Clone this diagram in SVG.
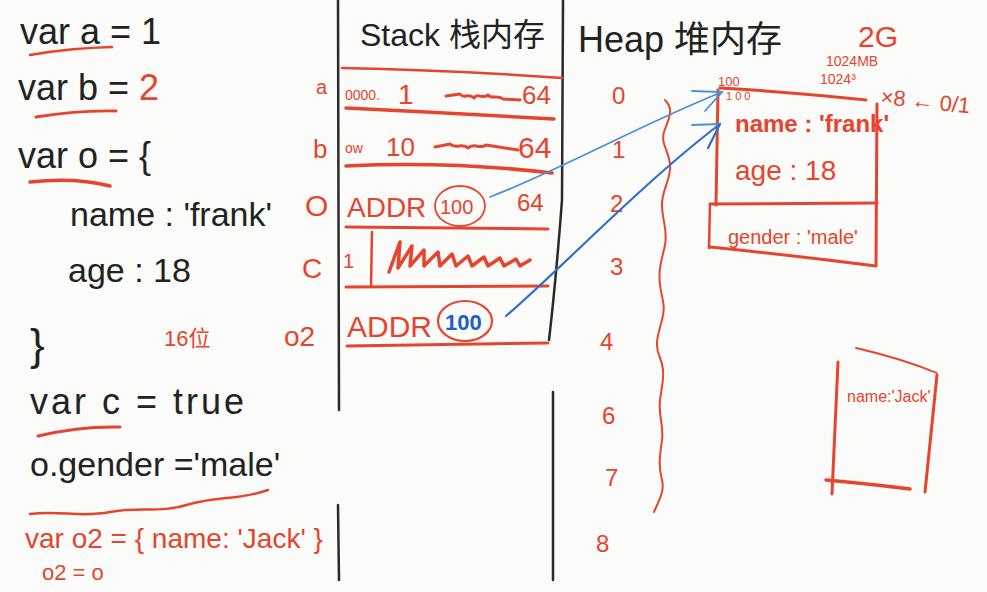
<svg xmlns="http://www.w3.org/2000/svg" width="987" height="592" viewBox="0 0 987 592">
<defs>
<style>
.k{font-family:"Liberation Sans","Noto Sans CJK SC",sans-serif;fill:#222}
.r{font-family:"Liberation Sans","Noto Sans CJK SC",sans-serif;fill:#e5442e}
.b{font-family:"Liberation Sans",sans-serif;fill:#1f5fc4;font-weight:bold}
.rl{fill:none;stroke:#e5442e;stroke-linecap:round;stroke-linejoin:round}
.kl{fill:none;stroke:#2a2a2a;stroke-width:2.5;stroke-linecap:round}
.bl{fill:none;stroke:#4a90d9;stroke-width:1.8;stroke-linecap:round}
.bd{fill:none;stroke:#2d6fc9;stroke-width:2.2;stroke-linecap:round}
</style>
</defs>
<rect width="987" height="592" fill="#fbfbf9"/>

<g id="code">
<text class="k" x="20" y="44" font-size="36">var a = 1</text>
<path class="rl" stroke-width="2.5" d="M30,55 Q70,48 112,47"/>
<text class="k" x="18" y="100" font-size="36">var b = <tspan class="r">2</tspan></text>
<path class="rl" stroke-width="3" d="M36,117 Q80,110 116,111"/>
<text class="k" x="18" y="168" font-size="36">var o = {</text>
<path class="rl" stroke-width="3.5" d="M30,182 Q75,177 110,186"/>
<text class="k" x="70" y="226" font-size="34">name : 'frank'</text>
<text class="k" x="68" y="282" font-size="34">age : 18</text>
<text class="k" x="30" y="360" font-size="44">}</text>
<text class="r" x="164" y="346" font-size="22">16位</text>
<text class="k" x="30" y="414" font-size="36" letter-spacing="3">var c = true</text>
<path class="rl" stroke-width="3" d="M38,436 Q80,426 120,427"/>
<text class="k" x="30" y="476" font-size="34">o.gender ='male'</text>
<path class="rl" stroke-width="2.5" d="M30,514 C60,510 80,518 110,512 C140,506 160,514 190,504 C220,496 240,500 268,490"/>
<text class="r" x="25" y="548" font-size="28">var o2 = { name: 'Jack' }</text>
<text class="r" x="42" y="580" font-size="22">o2 = o</text>
</g>

<g id="stack">
<path class="kl" d="M338,0 L339,410"/>
<path class="kl" d="M338,505 L339,580"/>
<path class="kl" d="M563,0 L562,200 Q556,280 549,340"/>
<path class="kl" d="M553,392 L553,580"/>
<text class="k" x="360" y="46" font-size="32">Stack 栈内存</text>
<path class="rl" stroke-width="2.5" d="M342,68 Q450,70 562,78"/>
<path class="rl" stroke-width="3.5" d="M346,108 Q450,113 554,119"/>
<path class="rl" stroke-width="3.5" d="M346,166 Q450,161 552,173"/>
<path class="rl" stroke-width="3" d="M346,227 L548,229"/>
<path class="rl" stroke-width="3" d="M346,287 L548,286"/>
<path class="rl" stroke-width="3" d="M347,346 L548,343"/>
<text class="r" x="345" y="100" font-size="14">0000.</text>
<text class="r" x="398" y="104" font-size="28">1</text>
<path class="rl" stroke-width="3" d="M446,96 L460,94 C464,100 468,92 474,98 C478,92 482,100 488,95 C492,100 498,94 503,99 L520,100"/>
<text class="r" x="522" y="104" font-size="26">64</text>
<text class="r" x="345" y="153" font-size="14">ow</text>
<text class="r" x="386" y="156" font-size="26">10</text>
<path class="rl" stroke-width="3" d="M435,147 L450,144 C456,150 462,142 468,148 C474,142 480,150 486,145 L518,150"/>
<text class="r" x="518" y="158" font-size="30">64</text>
<text class="r" x="347" y="217" font-size="28">ADDR</text>
<ellipse class="rl" stroke-width="1.8" cx="460" cy="206" rx="25" ry="20"/>
<text class="r" x="440" y="214" font-size="20">100</text>
<text class="r" x="517" y="211" font-size="24">64</text>
<text class="r" x="343" y="268" font-size="20">1</text>
<path class="rl" stroke-width="2.5" d="M372,232 L371,286"/>
<path class="rl" stroke-width="3.5" d="M389,272 L400,242 L398,268 L412,246 L410,266 L424,250 L424,266 L438,252 L440,266 L452,254 L456,266 L468,256 L472,266 L484,257 L488,266 L500,258 L504,266 L516,259 L520,266 L530,260"/>
<text class="r" x="347" y="337" font-size="30">ADDR</text>
<ellipse class="rl" stroke-width="2.2" cx="465" cy="321" rx="27" ry="20"/>
<text class="b" x="445" y="330" font-size="22">100</text>
</g>

<g id="stack-labels">
<text class="r" x="316" y="94" font-size="20">a</text>
<text class="r" x="313" y="158" font-size="26">b</text>
<text class="r" x="305" y="216" font-size="30">O</text>
<text class="r" x="302" y="278" font-size="28">C</text>
<text class="r" x="284" y="346" font-size="28">o2</text>
</g>

<g id="heap">
<text class="k" x="578" y="52" font-size="36">Heap 堆内存</text>
<text class="r" x="612" y="104" font-size="24">0</text>
<text class="r" x="612" y="158" font-size="24">1</text>
<text class="r" x="610" y="212" font-size="24">2</text>
<text class="r" x="610" y="275" font-size="24">3</text>
<text class="r" x="600" y="350" font-size="24">4</text>
<text class="r" x="602" y="424" font-size="24">6</text>
<text class="r" x="605" y="486" font-size="24">7</text>
<text class="r" x="596" y="552" font-size="24">8</text>
<path class="rl" stroke-width="2" d="M665,100 C675,110 668,120 664,132 C660,146 672,154 670,170 C668,186 662,190 662,205 C662,220 668,230 665,245 C662,260 658,268 660,285 C662,300 666,305 662,320 C658,335 654,345 660,358 C666,372 662,385 660,400 C658,415 664,425 662,440 C660,455 658,465 662,480 C665,492 658,502 654,512"/>
</g>

<g id="heap-object-frank">
<path class="rl" stroke-width="3" d="M720,88 Q790,92 866,100"/>
<path class="rl" stroke-width="3" d="M718,90 L716,205"/>
<path class="rl" stroke-width="3" d="M877,104 L876,265"/>
<path class="rl" stroke-width="3" d="M710,204 L877,203"/>
<path class="rl" stroke-width="2.5" d="M710,204 L709,248"/>
<path class="rl" stroke-width="3" d="M710,247 Q790,255 876,266"/>
<text class="r" x="718" y="86" font-size="13">100</text>
<text class="r" x="726" y="100" font-size="11">1 0 0</text>
<text class="r" x="735" y="132" font-size="24" font-weight="bold">name : 'frank'</text>
<text class="r" x="735" y="180" font-size="28">age : 18</text>
<text class="r" x="728" y="244" font-size="20">gender : 'male'</text>
</g>

<g id="heap-object-jack">
<path class="rl" stroke-width="1.8" d="M856,348 Q900,358 937,373"/>
<path class="rl" stroke-width="3" d="M838,362 L832,494"/>
<path class="rl" stroke-width="3" d="M937,375 L925,492"/>
<path class="rl" stroke-width="3.5" d="M826,480 Q870,484 910,489"/>
<text class="r" x="847" y="402" font-size="16">name:'Jack'</text>
</g>

<g id="memory-note">
<text class="r" x="858" y="47" font-size="30">2G</text>
<text class="r" x="826" y="66" font-size="14">1024MB</text>
<text class="r" x="820" y="84" font-size="14">1024³</text>
<text class="r" x="880" y="104" font-size="22" transform="rotate(6 880 104)">×8 ← 0/1</text>
</g>

<g id="connectors">
<path class="bl" d="M490,197 C560,170 640,125 722,92"/>
<path class="bl" d="M692,91 L722,92 L705,111"/>
<path class="bd" d="M506,316 C560,270 640,185 720,124"/>
<path class="bl" d="M692,125 L720,124"/>
<path class="bd" d="M708,148 L720,124"/>
</g>
</svg>
